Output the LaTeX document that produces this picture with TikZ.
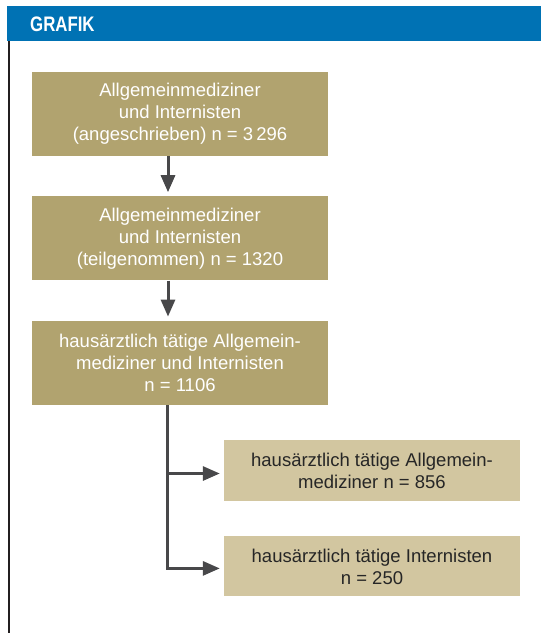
\documentclass[tikz,border=0pt]{standalone}
\usepackage{fontspec}
\setmainfont{Liberation Sans}
\newfontfamily\headfont{Liberation Sans}[FakeStretch=0.8]
\usetikzlibrary{arrows.meta, positioning}
\definecolor{headBlue}{RGB}{0,114,180}
\definecolor{darkOlive}{RGB}{177,163,111}
\definecolor{lightOlive}{RGB}{210,198,160}
\definecolor{arrowGray}{RGB}{72,72,74}
\definecolor{frameBlack}{RGB}{35,31,32}
\tikzset{
    mainbox/.style={fill=darkOlive, text=white, minimum width=296pt, minimum height=84pt,
        inner sep=0pt, align=center, font=\fontsize{18.5}{22}\selectfont},
    subbox/.style={mainbox, fill=lightOlive, text=black!85, minimum height=61pt},
    flow/.style={draw=arrowGray, line width=3pt, -{Triangle[length=17pt, width=14pt]}, shorten >=4pt}
}

\begin{document}
\begin{tikzpicture}[x=1pt, y=1pt]
        \useasboundingbox (0,0) rectangle (541,-633);

        % Header bar and frame line
        \fill[headBlue] (7,-6) rectangle (541,-41);
        \node[anchor=west, inner sep=0pt, text=white, font=\headfont\bfseries\fontsize{21}{21}\selectfont] (titel) at (30,-24) {GRAFIK};
        \fill[frameBlack] (7.5,-41) rectangle (9.5,-633);

        % Main column
        \node[mainbox] (angeschr) at (180,-114) {Allgemeinmediziner\\und Internisten\\(angeschrieben) n = 3\,296};
        \node[mainbox, below=40pt of angeschr] (teilgen) {Allgemeinmediziner\\und Internisten\\(teilgenommen) n = 1320};
        \node[mainbox, below=40pt of teilgen] (hausarzt) {hausärztlich tätige Allgemein-\\mediziner und Internisten\\n = 1106};

        % Split
        \node[subbox, minimum height=61pt] (allgmed) at (372,-470.5) {hausärztlich tätige Allgemein-\\mediziner n = 856};
        \node[subbox, minimum height=60pt, below=35pt of allgmed] (intern) {hausärztlich tätige Internisten\\n = 250};

        % Arrows
        \draw[flow] ([xshift=-12pt]angeschr.south) -- ([xshift=-12pt]teilgen.north);
        \draw[flow] ([xshift=-12pt]teilgen.south) -- ([xshift=-12pt]hausarzt.north);
        \draw[flow] ([xshift=-13pt]hausarzt.south) |- ([yshift=-3pt]allgmed.west);
        \draw[flow] ([xshift=-13pt]hausarzt.south) |- ([yshift=-2pt]intern.west);
\end{tikzpicture}
\end{document}
